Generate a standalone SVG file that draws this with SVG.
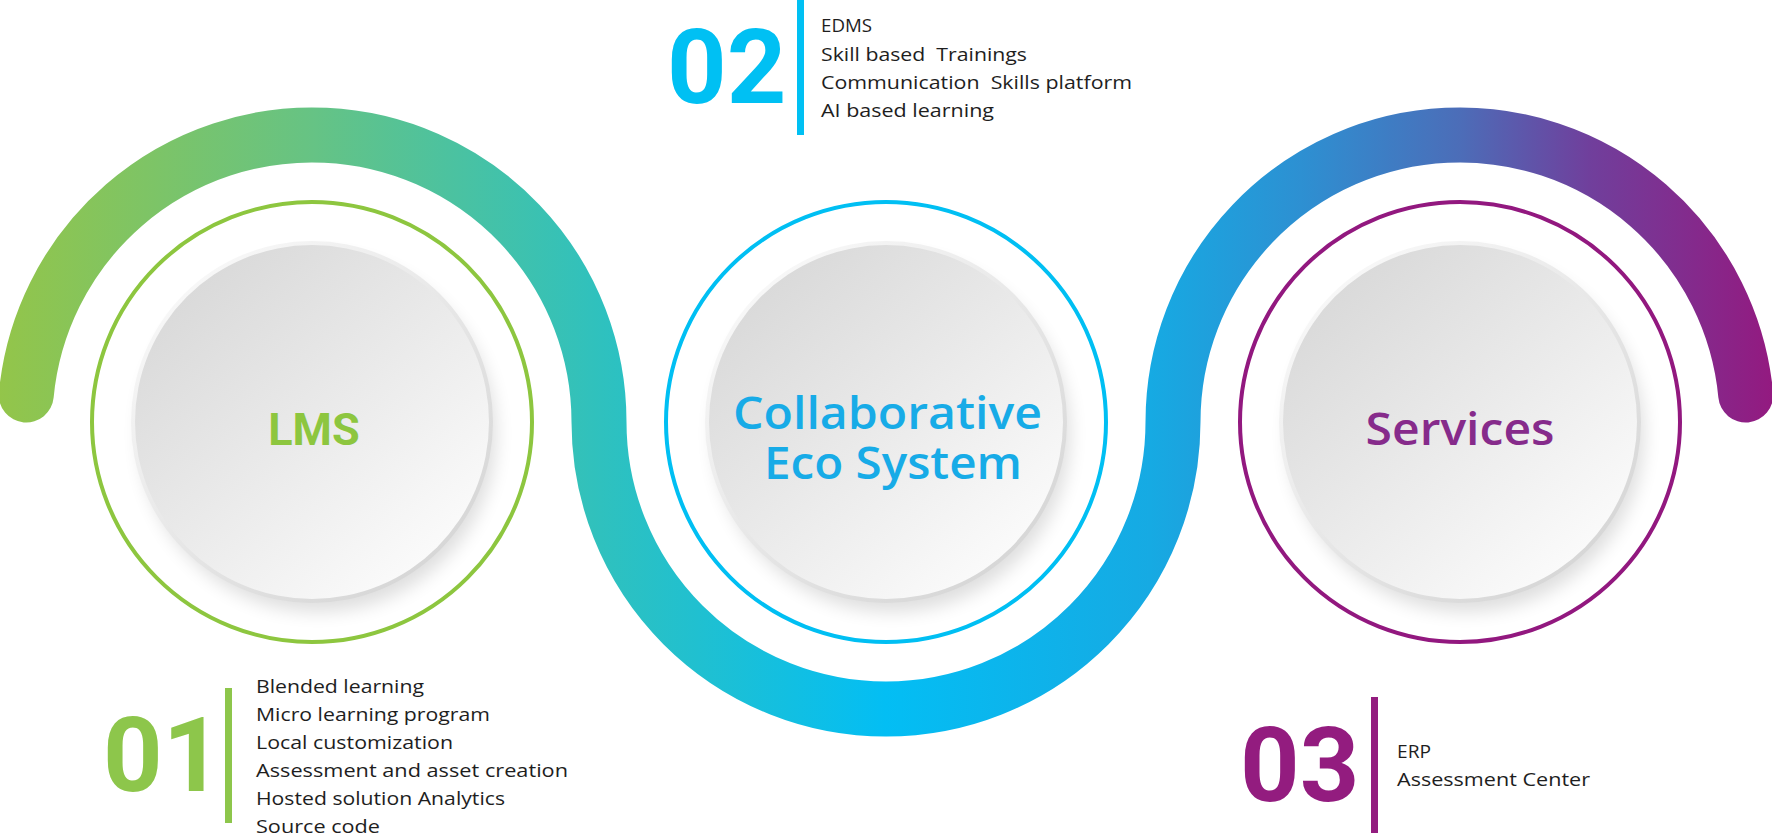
<svg xmlns="http://www.w3.org/2000/svg" width="1772" height="840" viewBox="0 0 1772 840">
<style>
.ring{fill:none;stroke-width:4}
.body{font-family:"Open Sans","DejaVu Sans",sans-serif;font-size:18px;fill:#1e1e1e}
.num{font-family:Roboto,"Liberation Sans",sans-serif;font-weight:700;font-size:104px}
.head{font-family:"Open Sans","Liberation Sans",sans-serif;font-weight:600;font-size:45px;text-anchor:middle}
.bar{stroke:none}
</style>
<defs>
<linearGradient id="band" gradientUnits="userSpaceOnUse" x1="0" y1="0" x2="1772" y2="0">
<stop offset="0" stop-color="#93c54a"/>
<stop offset="0.176" stop-color="#66c384"/>
<stop offset="0.339" stop-color="#2fc1be"/>
<stop offset="0.5" stop-color="#03bef4"/>
<stop offset="0.649" stop-color="#16aae3"/>
<stop offset="0.734" stop-color="#2d90d2"/>
<stop offset="0.824" stop-color="#4c6db8"/>
<stop offset="0.897" stop-color="#703f9c"/>
<stop offset="1" stop-color="#931a80"/>
</linearGradient>
<linearGradient id="disc" x1="0.15" y1="0.1" x2="0.85" y2="0.9">
<stop offset="0" stop-color="#d9d9d9"/>
<stop offset="1" stop-color="#fbfbfb"/>
</linearGradient>
<linearGradient id="rim" x1="0.15" y1="0.1" x2="0.85" y2="0.9">
<stop offset="0" stop-color="#f8f8f8"/>
<stop offset="1" stop-color="#d6d6d6"/>
</linearGradient>
<filter id="blur" x="-30%" y="-30%" width="160%" height="160%">
<feGaussianBlur stdDeviation="9"/>
</filter>
<g id="disk">
<circle cx="6" cy="12" r="178" fill="#000" opacity="0.13" filter="url(#blur)"/>
<circle cx="0" cy="0" r="181" fill="url(#rim)"/>
<circle cx="0" cy="0" r="177" fill="url(#disc)"/>
</g>
</defs>
<rect width="1772" height="840" fill="#ffffff"/>

<g id="connectors">
<path d="M 26.27 395 A 287 287 0 0 1 599 422 A 287 287 0 0 0 1173 422 A 287 287 0 0 1 1745.73 395" fill="none" stroke="url(#band)" stroke-width="55" stroke-linecap="round"/>
</g>

<g id="node-lms">
<circle class="ring" cx="312" cy="422" r="220" stroke="#8dc63f"/>
<use href="#disk" x="312" y="422"/>
<text x="314" y="445" font-family="Roboto,'Liberation Sans',sans-serif" font-weight="700" font-size="45" text-anchor="middle" fill="#8dc63f">LMS</text>
</g>

<g id="node-collab">
<circle class="ring" cx="886" cy="422" r="220" stroke="#00bff3"/>
<use href="#disk" x="886" y="422"/>
<text class="head" x="887.5" y="429" fill="#17abe7" textLength="309" lengthAdjust="spacingAndGlyphs">Collaborative</text>
<text class="head" x="893" y="479" fill="#17abe7" textLength="258" lengthAdjust="spacingAndGlyphs">Eco System</text>
</g>

<g id="node-services">
<circle class="ring" cx="1460" cy="422" r="220" stroke="#92187f"/>
<use href="#disk" x="1460" y="422"/>
<text class="head" x="1460" y="445" fill="#862b8b" textLength="189" lengthAdjust="spacingAndGlyphs">Services</text>
</g>

<g id="info-01">
<text class="num" x="103" y="791" fill="#8dc64b">01</text>
<rect class="bar" x="225" y="688" width="7" height="135" fill="#8dc64b"/>
<text class="body" xml:space="preserve">
<tspan x="256" y="693" textLength="168" lengthAdjust="spacingAndGlyphs">Blended learning</tspan>
<tspan x="256" y="721" textLength="234" lengthAdjust="spacingAndGlyphs">Micro learning program</tspan>
<tspan x="256" y="749" textLength="197" lengthAdjust="spacingAndGlyphs">Local customization</tspan>
<tspan x="256" y="777" textLength="312" lengthAdjust="spacingAndGlyphs">Assessment and asset creation</tspan>
<tspan x="256" y="805" textLength="249" lengthAdjust="spacingAndGlyphs">Hosted solution Analytics</tspan>
<tspan x="256" y="833" textLength="124" lengthAdjust="spacingAndGlyphs">Source code</tspan>
</text>
</g>

<g id="info-02">
<text class="num" x="667" y="103" fill="#00c0f3">02</text>
<rect class="bar" x="797" y="0" width="7" height="135" fill="#00c0f3"/>
<text class="body" xml:space="preserve"><tspan x="821" y="32" textLength="51" lengthAdjust="spacingAndGlyphs">EDMS</tspan><tspan x="821" y="61" textLength="206" lengthAdjust="spacingAndGlyphs">Skill based  Trainings</tspan><tspan x="821" y="89" textLength="311" lengthAdjust="spacingAndGlyphs">Communication  Skills platform</tspan><tspan x="821" y="117" textLength="173" lengthAdjust="spacingAndGlyphs">AI based learning</tspan></text>
</g>

<g id="info-03">
<text class="num" x="1240" y="801" fill="#931c7f">03</text>
<rect class="bar" x="1371" y="697" width="7" height="136" fill="#931c7f"/>
<text class="body"><tspan x="1397" y="758" textLength="34" lengthAdjust="spacingAndGlyphs">ERP</tspan><tspan x="1397" y="786" textLength="193" lengthAdjust="spacingAndGlyphs">Assessment Center</tspan></text>
</g>
</svg>
